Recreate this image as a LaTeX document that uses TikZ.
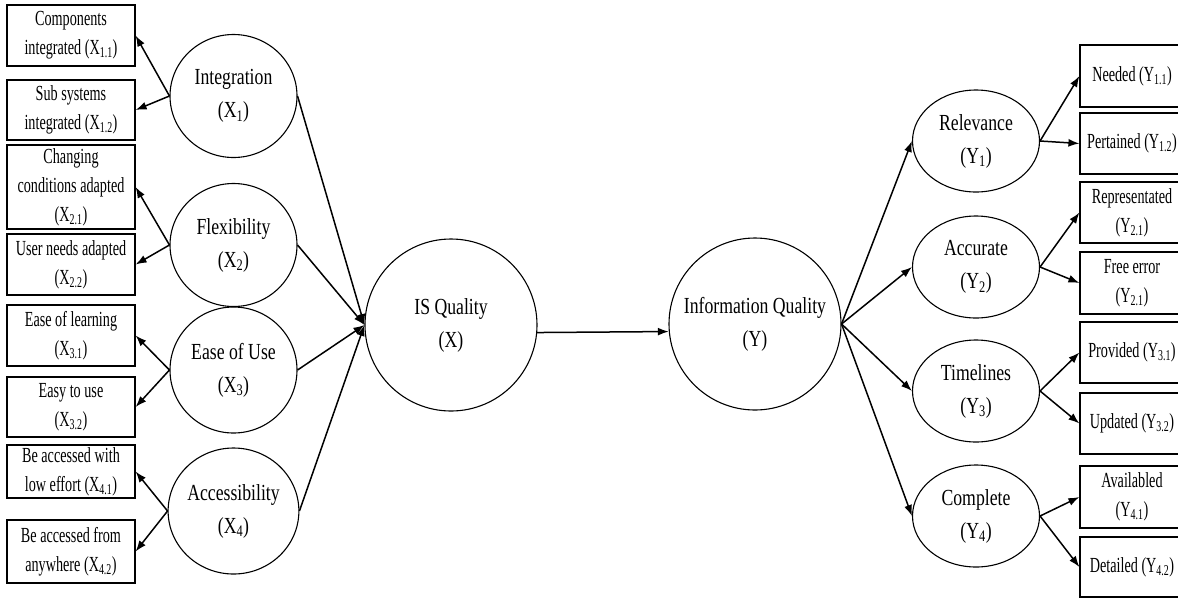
\documentclass[tikz,border=0pt]{standalone}
\usepackage{fontspec}
\setmainfont{Liberation Serif}
\newfontfamily\boxfont{Liberation Serif}[FakeStretch=0.66]
\newfontfamily\circfont{Liberation Serif}[FakeStretch=0.77]
\usetikzlibrary{shapes.geometric, arrows.meta}
\newcommand{\varlab}[2]{(#1\textsubscript{#2})}
\tikzstyle{indicator} = [rectangle, draw=black, line width=1.2pt, minimum width=128pt, align=center, font=\boxfont\fontsize{21.5}{29}\selectfont, inner sep=1pt]
\tikzstyle{dimension} = [ellipse, draw=black, line width=1.1pt, minimum width=127pt, align=center, font=\circfont\fontsize{23}{33}\selectfont, inner sep=0pt]
\tikzstyle{latent} = [circle, draw=black, line width=1.1pt, minimum size=172pt, align=center, font=\circfont\fontsize{23}{33}\selectfont, inner sep=0pt]
\tikzstyle{arrow} = [line width=1.5pt,->,>={Latex[length=11pt,width=8pt]}]

\begin{document}
\begin{tikzpicture}[x=1pt, y=-1pt]
    \useasboundingbox (0,0) rectangle (1178,598);
    % left indicators
    \node (x11) [indicator, minimum height=61pt] at (71,35.5) {Components\\integrated \varlab{X}{1.1}};
    \node (x12) [indicator, minimum height=60pt] at (71,110) {Sub systems\\integrated \varlab{X}{1.2}};
    \node (x21) [indicator, minimum height=84pt] at (71,187) {Changing\\conditions adapted\\\varlab{X}{2.1}};
    \node (x22) [indicator, minimum height=61pt] at (71,264.5) {User needs adapted\\\varlab{X}{2.2}};
    \node (x31) [indicator, minimum height=61pt] at (71,335.5) {Ease of learning\\\varlab{X}{3.1}};
    \node (x32) [indicator, minimum height=60pt] at (71,407) {Easy to use\\\varlab{X}{3.2}};
    \node (x41) [indicator, minimum height=53pt] at (71,471.5) {Be accessed with\\low effort \varlab{X}{4.1}};
    \node (x42) [indicator, minimum height=63pt] at (71,551.5) {Be accessed from\\anywhere \varlab{X}{4.2}};

    % left dimensions
    \node (integ) [dimension, minimum height=123pt] at (233.5,96) {Integration\\\varlab{X}{1}};
    \node (flex) [dimension, minimum height=123pt] at (233.5,245) {Flexibility\\\varlab{X}{2}};
    \node (ease) [dimension, minimum height=126pt] at (233.5,370) {Ease of Use\\\varlab{X}{3}};
    \node (access) [dimension, minimum height=126pt] at (233.5,511) {Accessibility\\\varlab{X}{4}};

    % latent variables
    \node (isq) [latent] at (451,325) {IS Quality\\(X)};
    \node (iq) [latent] at (755,324) {Information Quality\\(Y)};

    % right dimensions
    \node (rel) [dimension, minimum height=102pt] at (976,141) {Relevance\\\varlab{Y}{1}};
    \node (acc) [dimension, minimum height=102pt] at (976,267) {Accurate\\\varlab{Y}{2}};
    \node (time) [dimension, minimum height=102pt] at (976,391) {Timelines\\\varlab{Y}{3}};
    \node (comp) [dimension, minimum height=102pt] at (976,516) {Complete\\\varlab{Y}{4}};

    % right indicators
    \node (y11) [indicator, minimum width=104pt, minimum height=62pt] at (1132,76) {Needed \varlab{Y}{1.1}};
    \node (y12) [indicator, minimum width=104pt, minimum height=61pt] at (1132,143.5) {Pertained \varlab{Y}{1.2}};
    \node (y21) [indicator, minimum width=104pt, minimum height=61pt] at (1132,212.5) {Representated\\\varlab{Y}{2.1}};
    \node (y22) [indicator, minimum width=104pt, minimum height=62pt] at (1132,283) {Free error\\\varlab{Y}{2.1}};
    \node (y31) [indicator, minimum width=104pt, minimum height=61pt] at (1132,352.5) {Provided \varlab{Y}{3.1}};
    \node (y32) [indicator, minimum width=104pt, minimum height=61pt] at (1132,423.5) {Updated \varlab{Y}{3.2}};
    \node (y41) [indicator, minimum width=104pt, minimum height=62pt] at (1132,497) {Availabled\\\varlab{Y}{4.1}};
    \node (y42) [indicator, minimum width=104pt, minimum height=60pt] at (1132,567) {Detailed \varlab{Y}{4.2}};

    \draw [arrow] (integ.west) -- (x11.east);
    \draw [arrow] (integ.west) -- (x12.east);
    \draw [arrow] (flex.west) -- (x21.east);
    \draw [arrow] (flex.west) -- (x22.east);
    \draw [arrow] (ease.west) -- (x31.east);
    \draw [arrow] (ease.west) -- (x32.east);
    \draw [arrow] (access.west) -- (x41.east);
    \draw [arrow] (access.west) -- (x42.east);

    \draw [arrow] (integ.east) -- (isq.west);
    \draw [arrow] (flex.east) -- (isq.west);
    \draw [arrow] (ease.east) -- (isq.west);
    \draw [arrow] (access.east) -- (isq.west);

    \draw [arrow] (isq.-5) -- (iq.185);

    \draw [arrow] (iq.east) -- (rel.west);
    \draw [arrow] (iq.east) -- (acc.west);
    \draw [arrow] (iq.east) -- (time.west);
    \draw [arrow] (iq.east) -- (comp.west);

    \draw [arrow] (rel.east) -- (y11.west);
    \draw [arrow] (rel.east) -- (y12.west);
    \draw [arrow] (acc.east) -- (y21.west);
    \draw [arrow] (acc.east) -- (y22.west);
    \draw [arrow] (time.east) -- (y31.west);
    \draw [arrow] (time.east) -- (y32.west);
    \draw [arrow] (comp.east) -- (y41.west);
    \draw [arrow] (comp.east) -- (y42.west);
\end{tikzpicture}
\end{document}
